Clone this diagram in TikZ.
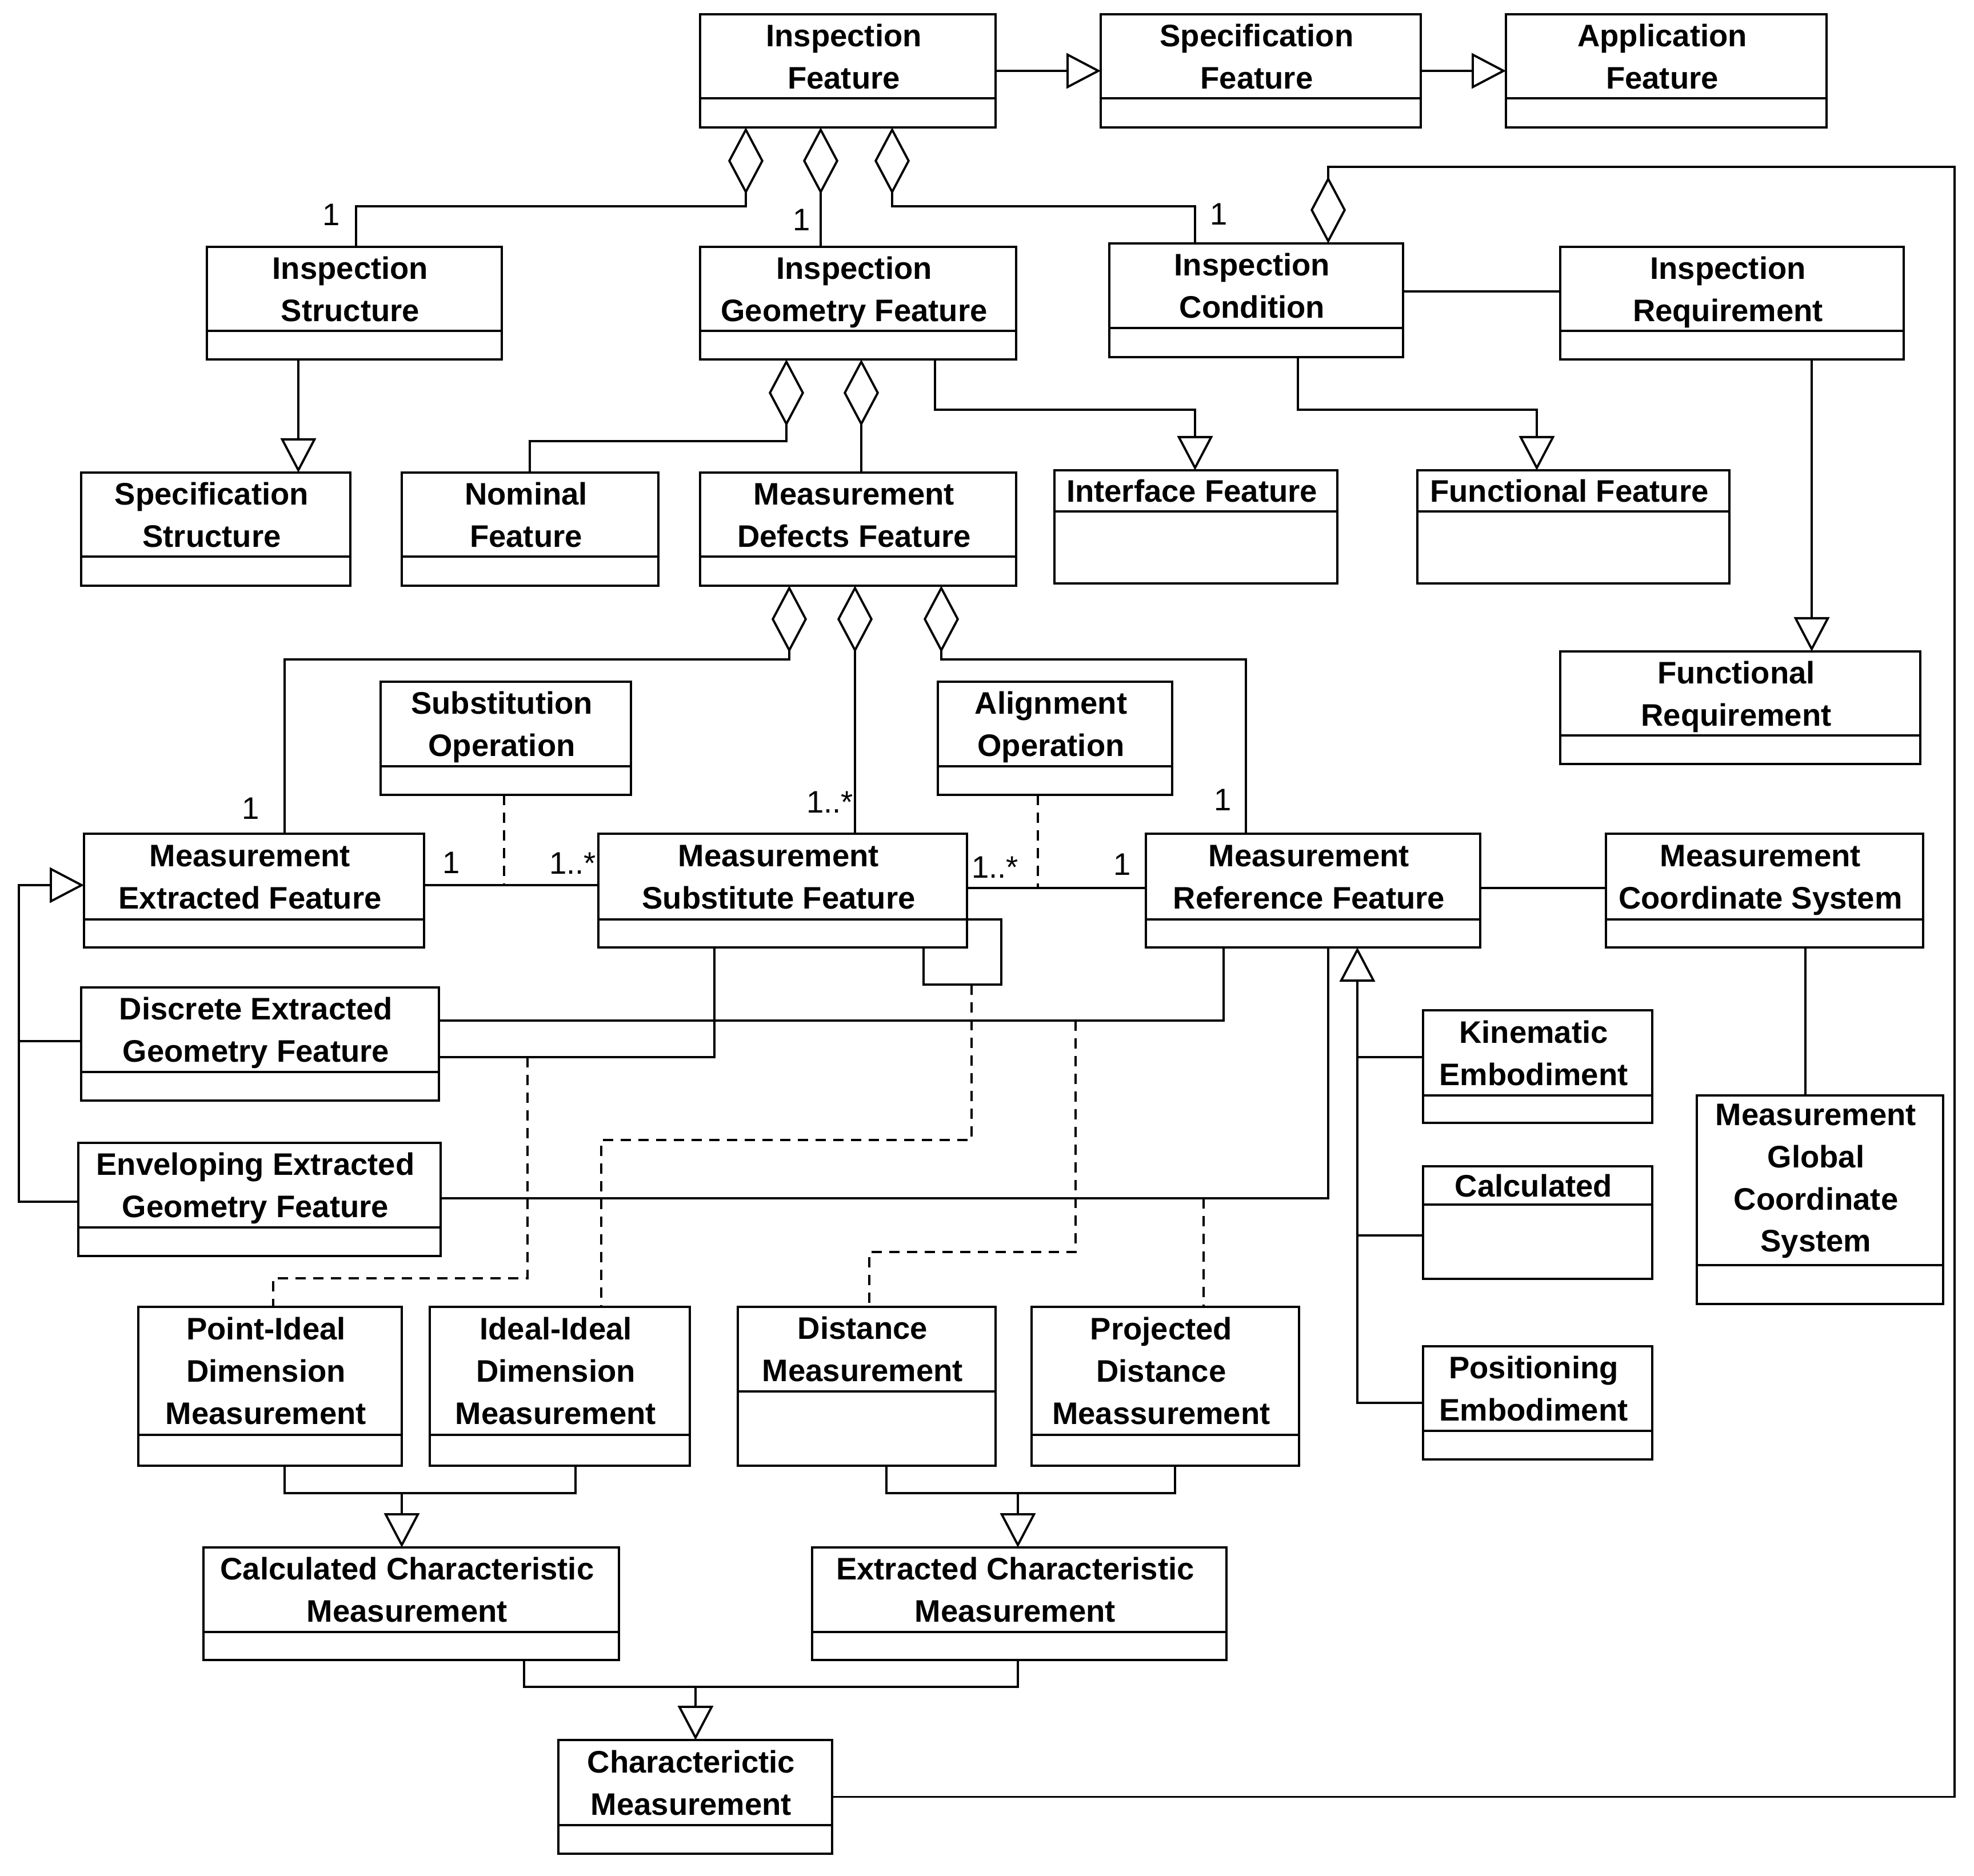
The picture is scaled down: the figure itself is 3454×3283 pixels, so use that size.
\documentclass[tikz,border=0pt]{standalone}
\usepackage{fontspec}
\setmainfont{Liberation Sans}
\usetikzlibrary{arrows.meta,fit}
\newcommand\umlbox[8][5]{%
  \node[box, fit={(#3,#4) (#5,#6)}] (#2) {};
  \draw (#2.west|-0,#7) -- (#2.east|-0,#7);
  \pgfmathsetmacro\bcx{(#3+#5)/2-7}%
  \pgfmathsetmacro\bcy{(#4+#7)/2+#1}%
  \node[title] (#2-t) at (\bcx,\bcy) {\strut #8\strut};
}
\begin{document}
\begin{tikzpicture}[x=0.1mm,y=-0.1mm,line width=1.1pt,
  box/.style={draw, inner sep=0pt, outer sep=0pt},
  title/.style={font=\bfseries\fontsize{15.5pt}{21pt}\selectfont, align=center, inner sep=0pt},
  mult/.style={font=\fontsize{15.5pt}{21pt}\selectfont, inner sep=0pt},
  gen/.style={-{Triangle[open,length=6mm,width=6.2mm]}},
  agg/.style={{Diamond[open,length=11.7mm,width=6.2mm]}-},
  dep/.style={dash pattern=on 1.8mm off 1.3mm}]
\useasboundingbox (0,0) rectangle (3454,3283);

% classes
\umlbox{IF}{1225}{25}{1742}{223}{172}{Inspection\\Feature}
\umlbox{SF}{1926}{25}{2486}{223}{172}{Specification\\Feature}
\umlbox{AF}{2635}{25}{3196}{223}{172}{Application\\Feature}
\umlbox{IS}{362}{432}{878}{629}{579}{Inspection\\Structure}
\umlbox{IGF}{1225}{432}{1778}{629}{579}{Inspection\\Geometry Feature}
\umlbox{IC}{1941}{426}{2455}{625}{574}{Inspection\\Condition}
\umlbox{IR}{2730}{432}{3331}{629}{579}{Inspection\\Requirement}
\umlbox{SS}{142}{827}{613}{1025}{974}{Specification\\Structure}
\umlbox{NF}{703}{827}{1152}{1025}{974}{Nominal\\Feature}
\umlbox{MDF}{1225}{827}{1778}{1025}{974}{Measurement\\Defects Feature}
\umlbox{InF}{1845}{823}{2340}{1021}{895}{Interface Feature}
\umlbox{FF}{2480}{823}{3026}{1021}{895}{Functional Feature}
\umlbox{FR}{2730}{1140}{3360}{1337}{1287}{Functional\\Requirement}
\umlbox{SO}{666}{1193}{1104}{1391}{1341}{Substitution\\Operation}
\umlbox{AO}{1641}{1193}{2051}{1391}{1341}{Alignment\\Operation}
\umlbox{MEF}{147}{1459}{742}{1658}{1609}{Measurement\\Extracted Feature}
\umlbox{MSF}{1047}{1459}{1692}{1658}{1609}{Measurement\\Substitute Feature}
\umlbox{MRF}{2005}{1459}{2590}{1658}{1609}{Measurement\\Reference Feature}
\umlbox{MCS}{2810}{1459}{3365}{1658}{1609}{Measurement\\Coordinate System}
\umlbox{DEGF}{142}{1728}{768}{1926}{1876}{Discrete Extracted\\Geometry Feature}
\umlbox{KE}{2490}{1768}{2891}{1965}{1917}{Kinematic\\Embodiment}
\umlbox{EEGF}{137}{2000}{771}{2198}{2148}{Enveloping Extracted\\Geometry Feature}
\umlbox{CA}{2490}{2041}{2891}{2238}{2108}{Calculated}
\umlbox[0]{MGCS}{2969}{1917}{3400}{2282}{2214}{Measurement\\Global\\Coordinate\\System}
\umlbox{PE}{2490}{2356}{2891}{2554}{2504}{Positioning\\Embodiment}
\umlbox{PI}{242}{2287}{703}{2565}{2511}{Point-Ideal\\Dimension\\Measurement}
\umlbox{II}{752}{2287}{1207}{2565}{2511}{Ideal-Ideal\\Dimension\\Measurement}
\umlbox{DM}{1291}{2287}{1742}{2565}{2435}{Distance\\Measurement}
\umlbox{PDM}{1805}{2287}{2273}{2565}{2511}{Projected\\Distance\\Meassurement}
\umlbox{CCM}{356}{2708}{1083}{2905}{2856}{Calculated Characteristic\\Measurement}
\umlbox{ECM}{1421}{2708}{2146}{2905}{2856}{Extracted Characteristic\\Measurement}
\umlbox{CM}{977}{3045}{1456}{3244}{3194}{Characterictic\\Measurement}

% junction coordinates
\coordinate (q1) at (882,1549);
\coordinate (q2) at (1816,1554);
\coordinate (q3) at (1700,1723);
\coordinate (q4) at (923,1850);
\coordinate (q5) at (1882,1786);
\coordinate (q6) at (2106,2097);
\coordinate (j1) at (703,2613);
\coordinate (j2) at (1781,2613);
\coordinate (j3) at (1217,2952);

% top generalizations
\draw[gen] (IF.east) -- (SF.west);
\draw[gen] (SF.east) -- (AF.west);

% aggregations from Inspection Feature
\draw[agg] (IF.south-|1305,0) -- (1305,361) -| (IS.north-|623,0);
\draw[agg] (IF.south-|1436,0) -- (IGF.north-|1436,0);
\draw[agg] (IF.south-|1561,0) -- (1561,361) -| (IC.north-|2091,0);
\node[mult] (m1) at (580,376) {1};
\node[mult] (m2) at (1403,385) {1};
\node[mult] (m3) at (2133,375) {1};

% Inspection Condition aggregation of Characterictic Measurement
\draw[agg] (IC.north-|2324,0) -- (2324,292) -- (3420,292) |- (CM.east);
\draw (IC.east|-0,510) -- (IR.west|-0,510);
\draw[gen] (IR.south-|3170,0) -- (FR.north-|3170,0);
\draw[gen] (IS.south-|522,0) -- (SS.north-|522,0);
\draw[gen] (IGF.south-|1636,0) -- (1636,717) -| (InF.north-|2091,0);
\draw[gen] (IC.south-|2271,0) -- (2271,717) -| (FF.north-|2689,0);

% aggregations from Inspection Geometry Feature
\draw[agg] (IGF.south-|1376,0) -- (1376,772) -| (NF.north-|927,0);
\draw[agg] (IGF.south-|1507,0) -- (MDF.north-|1507,0);

% aggregations from Measurement Defects Feature
\draw[agg] (MDF.south-|1381,0) -- (1381,1154) -| (MEF.north-|498,0);
\draw[agg] (MDF.south-|1496,0) -- (MSF.north-|1496,0);
\draw[agg] (MDF.south-|1647,0) -- (1647,1154) -| (MRF.north-|2180,0);
\node[mult] (m4) at (439,1415) {1};
\node[mult] (m5) at (1452,1404) {1..*};
\node[mult] (m6) at (2140,1400) {1};

% associations
\draw (MEF.east|-0,1549) -- (MSF.west|-0,1549);
\draw (MSF.east|-0,1554) -- (MRF.west|-0,1554);
\draw (MRF.east|-0,1554) -- (MCS.west|-0,1554);
\draw (MCS.south-|3159,0) -- (MGCS.north-|3159,0);
\node[mult] (m7) at (790,1510) {1};
\node[mult] (m8) at (1002,1511) {1..*};
\node[mult] (m9) at (1741,1518) {1..*};
\node[mult] (m10) at (1964,1513) {1};
\draw[dep] (SO.south-|882,0) -- (q1);
\draw[dep] (AO.south-|1816,0) -- (q2);

% self association of Measurement Substitute Feature
\draw (MSF.east|-0,1609) -- (1752,1609) -- (1752,1723) -| (MSF.south-|1616,0);

% links to extracted geometry features
\draw (MSF.south-|1250,0) |- (DEGF.east|-0,1850);
\draw (MRF.south-|2141,0) |- (DEGF.east|-0,1786);
\draw (MRF.south-|2324,0) |- (EEGF.east|-0,2097);

% generalization into Measurement Extracted Feature
\draw[gen] (EEGF.west|-0,2103) -| (33,1549) -- (MEF.west|-0,1549);
\draw (DEGF.west|-0,1822) -- (33,1822);

% generalization into Measurement Reference Feature
\draw[gen] (PE.west|-0,2455) -| (MRF.south-|2375,0);
\draw (KE.west|-0,1850) -- (2375,1850);
\draw (CA.west|-0,2162) -- (2375,2162);

% dependencies to measurements
\draw[dep] (q4) -- (923,2237) -| (PI.north-|478,0);
\draw[dep] (q3) -- (1700,1995) -| (II.north-|1052,0);
\draw[dep] (q5) -- (1882,2191) -| (DM.north-|1521,0);
\draw[dep] (q6) -- (PDM.north-|2106,0);

% lower generalizations
\draw (PI.south-|498,0) |- (j1);
\draw (II.south-|1007,0) |- (j1);
\draw[gen] (j1) -- (CCM.north-|703,0);
\draw (DM.south-|1551,0) |- (j2);
\draw (PDM.south-|2056,0) |- (j2);
\draw[gen] (j2) -- (ECM.north-|1781,0);
\draw (CCM.south-|917,0) |- (j3);
\draw (ECM.south-|1781,0) |- (j3);
\draw[gen] (j3) -- (CM.north-|1217,0);
\end{tikzpicture}
\end{document}
